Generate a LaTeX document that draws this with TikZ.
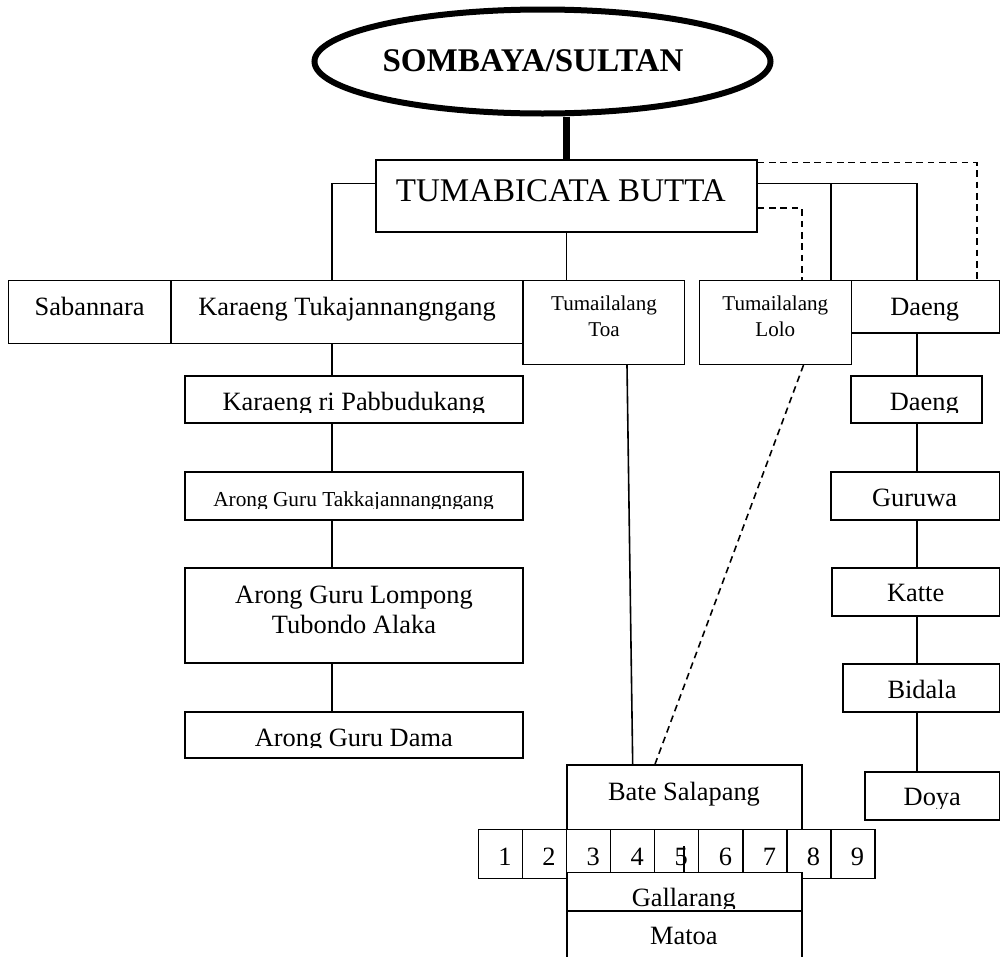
\documentclass[tikz,border=0pt]{standalone}
\usepackage{fontspec}
\setmainfont{Liberation Serif}
\usetikzlibrary{shapes.geometric,fit}
\newcommand\szBig{\fontsize{24.8pt}{28pt}\selectfont}
\newcommand\szMid{\fontsize{19.8pt}{24pt}\selectfont}
\newcommand\szSml{\fontsize{15.8pt}{19pt}\selectfont}
\newcommand\szAgt{\fontsize{16pt}{19pt}\selectfont}
\begin{document}
\begin{tikzpicture}[x=0.75pt,y=-0.75pt,
  boxst/.style={draw, fill=white, line width=1.2pt, rectangle, inner sep=0pt},
  lbl/.style={anchor=base, inner sep=0pt, font=\szMid},
  conn/.style={line width=1.2pt},
  dconn/.style={line width=1.2pt, dash pattern=on 5pt off 3.5pt},
  thick conn/.style={line width=5.25pt}
]
\fill[white] (0,0) rectangle (1001,957);
\clip (0,0) rectangle (1001,957);

% top
\node[draw, ellipse, line width=4.5pt, minimum width=342pt, minimum height=78pt, inner sep=0pt] (sultan) at (542.5,61.5) {};
\node[lbl, font=\szBig\bfseries] (sultanT) at (533,71.7) {SOMBAYA/SULTAN};
\node[boxst, fit={(376,160) (757,231.7)}] (tb) {};
\draw[thick conn] (tb.north |- sultan.south) -- (tb.north);
\node[lbl, font=\szBig] (tbT) at (560.8,201.7) {TUMABICATA BUTTA};

% first row
\node[boxst, fit={(8.3,280.5) (171,343.3)}] (sab) {};
\node[boxst, fit={(171,280.5) (524.5,343.3)}] (kt) {};
\node[boxst, fit={(523,280.5) (684.5,364.3)}] (toa) {};
\node[boxst, fit={(699.5,280.5) (851.5,364.3)}] (lolo) {};
\node[boxst, fit={(851.5,280.5) (999.5,333)}] (daeng1) {};

% left column
\node[boxst, fit={(185,376) (522.7,423)}] (krp) {};
\node[boxst, fit={(185,471.7) (522.7,520)}] (agt) {};
\node[boxst, fit={(185,568) (522.7,663)}] (agl) {};
\node[boxst, fit={(185,711.7) (522.7,758)}] (agd) {};

% right column
\node[boxst, fit={(851,376) (981.7,423)}] (daeng2) {};
\node[boxst, fit={(830.7,472) (999.5,520)}] (guruwa) {};
\node[boxst, fit={(831.7,568) (999.5,616)}] (katte) {};
\node[boxst, fit={(843,664) (999.5,712)}] (bidala) {};
\node[boxst, fit={(865,771.7) (999.5,820)}] (doya) {};

% bottom group
\foreach \i in {1,...,9} {
  \pgfmathsetmacro\xa{478.3+44.07*(\i-1)}
  \pgfmathsetmacro\xb{478.3+44.07*\i}
  \node[boxst, fit={(\xa,829.5) (\xb,878.3)}] (n\i) {};
}
\node[boxst, fit={(566.7,765) (801.7,829.5)}] (bate) {};
\foreach \i in {1,...,9} {
  \pgfmathsetmacro\xt{505+44.07*(\i-1)}
  \node[lbl] (n\i T) at (\xt,865) {\i};
}
\coordinate (s5a) at (684,846);
\node[boxst, fit={(566.7,872.3) (801.7,910.7)}] (gall) {};
\draw[conn] (s5a) -- (s5a |- gall.north);
\node[boxst, fit={(566.7,910.7) (801.7,975)}] (matoa) {};

% connectors
\draw[conn] (tb.west |- 0,183.3) -| (331.7,0 |- kt.north);
\draw[conn] (tb.south) -- (tb.south |- toa.north);
\draw[conn] (tb.east |- 0,183.3) -- (917,183.3) -- (917,0 |- daeng1.north);
\draw[conn] (830.7,183.3) -- (830.7,0 |- lolo.north);
\draw[dconn] (tb.east |- 0,162.5) -| (976.7,0 |- daeng1.north);
\draw[dconn] (tb.east |- 0,208) -| (801.7,0 |- lolo.north);
\foreach \a/\b in {kt/krp, krp/agt, agt/agl, agl/agd}
  \draw[conn] (332,0 |- \a.south) -- (332,0 |- \b.north);
\foreach \a/\b in {daeng1/daeng2, daeng2/guruwa, guruwa/katte, katte/bidala, bidala/doya}
  \draw[conn] (917,0 |- \a.south) -- (917,0 |- \b.north);
\draw[conn] (627,0 |- toa.south) -- (632.7,0 |- bate.north);
\draw[dconn] (803.5,0 |- lolo.south) -- (655,0 |- bate.north);

% labels
\node[lbl] (sabT) at (89.7,315) {Sabannara};
\node[lbl] (ktT) at (347,315) {Karaeng Tukajannangngang};
\node[lbl, font=\szSml] (toaT1) at (604,310) {Tumailalang};
\node[lbl, font=\szSml] (toaT2) at (604,336) {Toa};
\node[lbl, font=\szSml] (loloT1) at (775.3,310) {Tumailalang};
\node[lbl, font=\szSml] (loloT2) at (775.3,336) {Lolo};
\node[lbl] (daeng1T) at (924.7,315) {Daeng};

\begin{scope}
  \clip (krp.north west) rectangle (krp.east |- 0,412.7);
  \node[lbl] (krpT) at (353.8,410.7) {Karaeng ri Pabbudukang};
\end{scope}
\begin{scope}
  \clip (agt.north west) rectangle (agt.east |- 0,508.3);
  \node[lbl, font=\szAgt] (agtT) at (353.5,506.7) {Arong Guru Takkajannangngang};
\end{scope}
\node[lbl] (aglT1) at (354,603) {Arong Guru Lompong};
\node[lbl] (aglT2) at (354,633) {Tubondo Alaka};
\begin{scope}
  \clip (agd.north west) rectangle (agd.east |- 0,747.5);
  \node[lbl] (agdT) at (353.8,746) {Arong Guru Dama};
\end{scope}
\begin{scope}
  \clip (daeng2.north west) rectangle (daeng2.east |- 0,412.7);
  \node[lbl] (daeng2T) at (924.3,410.7) {Daeng};
\end{scope}
\node[lbl] (guruwaT) at (914.7,506) {Guruwa};
\node[lbl] (katteT) at (915.7,601.7) {Katte};
\node[lbl] (bidalaT) at (922,698.3) {Bidala};
\begin{scope}
  \clip (doya.north west) rectangle (doya.east |- 0,808);
  \node[lbl] (doyaT) at (932.3,805) {Doya};
\end{scope}
\node[lbl] (bateT) at (684,800) {Bate Salapang};
\begin{scope}
  \clip (gall.north west) rectangle (gall.east |- 0,908.5);
  \node[lbl] (gallT) at (683.8,906.7) {Gallarang};
\end{scope}
\node[lbl] (matoaT) at (683.8,944) {Matoa};
\end{tikzpicture}
\end{document}
